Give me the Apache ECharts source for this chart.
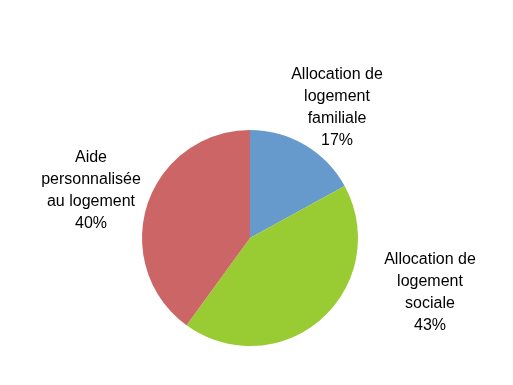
<!DOCTYPE html>
<html><head><meta charset="utf-8">
<script src="https://cdn.jsdelivr.net/npm/echarts@6/dist/echarts.min.js"></script>
<style>html,body{margin:0;padding:0;background:#fff}#c{width:513px;height:385px}</style>
</head><body><div id="c"></div>
<script>
const categories = ["Allocation de\nlogement\nfamiliale", "Allocation de\nlogement\nsociale", "Aide\npersonnalisée\nau logement"];
const values = [17, 43, 40];
const colors = ["#6699CC", "#99CC33", "#CC6666"];
const labelPos = [[337, 108], [430, 293], [91, 191]];

const chart = echarts.init(document.getElementById('c'), null, {renderer: 'canvas'});
chart.setOption({
  animation: false,
  series: [{
    type: 'pie',
    center: [250, 238],
    radius: [0, 108],
    startAngle: 90,
    clockwise: true,
    data: categories.map((n, i) => ({name: n, value: values[i], itemStyle: {color: colors[i]}})),
    label: {
      show: true,
      position: 'outside',
      formatter: p => p.name + '\n' + p.value + '%',
      fontFamily: 'Liberation Sans, Arial, sans-serif',
      fontSize: 16,
      lineHeight: 22,
      color: '#000',
      align: 'center',
      overflow: 'none',
      width: 200
    },
    labelLine: {show: false},
    labelLayout: function (params) {
      const p = labelPos[params.dataIndex];
      return {x: p[0], y: p[1], align: 'center', verticalAlign: 'middle'};
    },
    emphasis: {disabled: true}
  }]
});
</script></body></html>
